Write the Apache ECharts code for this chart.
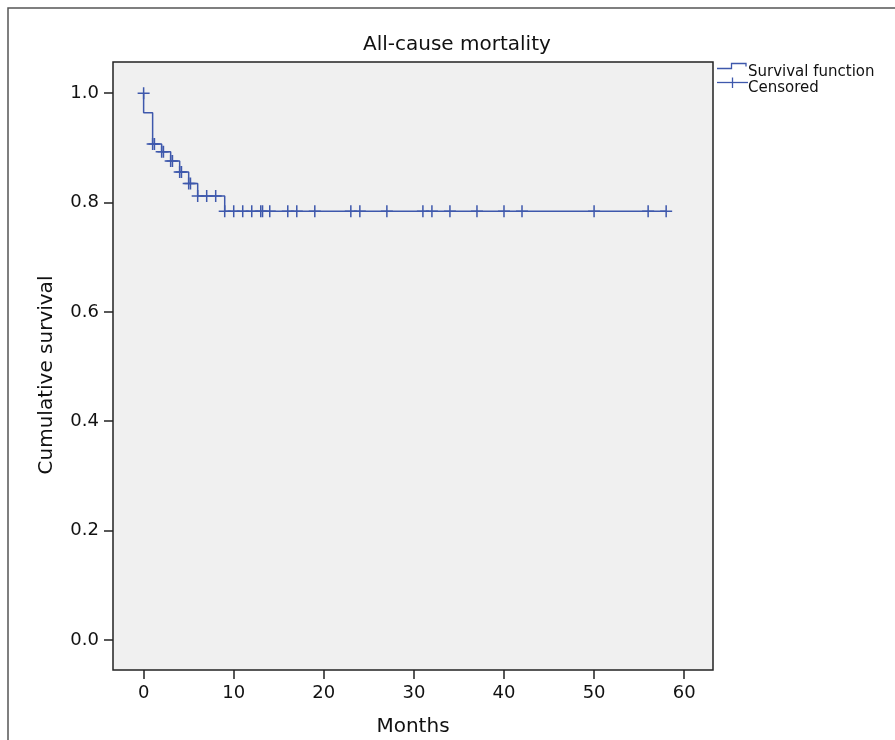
<!DOCTYPE html>
<html>
<head>
<meta charset="utf-8">
<script src="https://cdn.jsdelivr.net/npm/echarts@6/dist/echarts.min.js"></script>
<style>
html,body{margin:0;padding:0;background:#fff;}
#chart{width:895px;height:740px;}
</style>
</head>
<body>
<div id="chart"></div>
<script>
// Kaplan-Meier step curve: event times (months) and survival after each step
var stepTimes = [0, 0, 1, 2, 3, 4, 5, 6, 9, 58];
var stepSurv  = [1.0, 0.964, 0.907, 0.893, 0.876, 0.856, 0.835, 0.812, 0.784, 0.784];

// Censored observations (months) and survival level at that time
var censorTimes = [0, 1, 1.2, 2, 2.2, 3, 3.2, 4, 4.2, 5, 5.2, 6, 7, 8,
                   9, 10, 11, 12, 13, 13.2, 14, 16, 17, 19, 23, 24, 27, 31, 32, 34, 37, 40, 42, 50, 56, 58];
var censorSurv  = [1.0, 0.907, 0.907, 0.893, 0.893, 0.876, 0.876, 0.856, 0.856, 0.835, 0.835, 0.812, 0.812, 0.812,
                   0.784, 0.784, 0.784, 0.784, 0.784, 0.784, 0.784, 0.784, 0.784, 0.784, 0.784, 0.784, 0.784, 0.784, 0.784, 0.784, 0.784, 0.784, 0.784, 0.784, 0.784, 0.784];

var xTicks = [0, 10, 20, 30, 40, 50, 60];
var yTicks = [0, 0.2, 0.4, 0.6, 0.8, 1.0];

var titleText = 'All-cause mortality';
var xName = 'Months';
var yName = 'Cumulative survival';
var seriesNames = ['Survival function', 'Censored'];

var lineColor = '#3e58ac';
var FONT = 'DejaVu Sans';

var stepData = stepTimes.map(function (t, i) { return [t, stepSurv[i]]; });
var censorData = censorTimes.map(function (t, i) { return [t, censorSurv[i]]; });

var chart = echarts.init(document.getElementById('chart'), null, {renderer: 'canvas'});

var option = {
  backgroundColor: '#ffffff',
  animation: false,
  title: {
    text: titleText,
    left: 363,
    top: 35,
    padding: 0,
    textStyle: {fontFamily: FONT, fontSize: 20, fontWeight: 'normal', color: '#111'}
  },
  grid: {
    left: 113, top: 62, right: 182, bottom: 70,
    outerBoundsMode: 'none',
    containLabel: false,
    show: true,
    backgroundColor: '#f0f0f0',
    borderColor: '#222',
    borderWidth: 1.5
  },
  xAxis: {
    type: 'value',
    min: -3.4,
    max: 63.2,
    name: xName,
    nameLocation: 'middle',
    nameGap: 47,
    nameTextStyle: {fontFamily: FONT, fontSize: 20, color: '#111'},
    axisLine: {show: false, onZero: false},
    axisTick: {show: true, customValues: xTicks, length: 9, lineStyle: {color: '#222', width: 1.5}},
    axisLabel: {customValues: xTicks, margin: 14, fontFamily: FONT, fontSize: 18, color: '#111'},
    splitLine: {show: false}
  },
  yAxis: {
    type: 'value',
    min: -0.055,
    max: 1.057,
    name: yName,
    nameLocation: 'middle',
    nameGap: 56,
    nameTextStyle: {fontFamily: FONT, fontSize: 20, color: '#111', padding: [0, 18, 0, 0]},
    axisLine: {show: false, onZero: false},
    axisTick: {show: true, customValues: yTicks, length: 9, lineStyle: {color: '#222', width: 1.5}},
    axisLabel: {customValues: yTicks, margin: 14, fontFamily: FONT, fontSize: 18, color: '#111',
      formatter: function (v) { return v.toFixed(1); }},
    splitLine: {show: false}
  },
  series: [
    {
      name: seriesNames[0],
      type: 'line',
      step: 'end',
      data: stepData,
      showSymbol: false,
      symbol: 'none',
      lineStyle: {color: lineColor, width: 1.5},
      z: 3
    },
    {
      name: seriesNames[1],
      type: 'scatter',
      data: censorData,
      symbol: 'path://M0,6 L12,6 M6,0 L6,12',
      symbolSize: [12, 12],
      itemStyle: {color: 'transparent', borderColor: lineColor, borderWidth: 1.5, opacity: 1},
      z: 4
    }
  ],
  graphic: [
    {
      type: 'rect',
      shape: {x: 8, y: 8, width: 1000, height: 1000},
      style: {fill: 'none', stroke: '#555', lineWidth: 1.5},
      silent: true, z: 0
    },
    {
      type: 'polyline',
      shape: {points: [[717, 68.5], [731.5, 68.5], [731.5, 63.5], [746, 63.5], [746, 66.5]]},
      style: {stroke: lineColor, lineWidth: 1.3, fill: 'none'},
      silent: true
    },
    {
      type: 'text',
      x: 748, y: 72,
      style: {text: seriesNames[0], fontFamily: FONT, fontSize: 15, fill: '#111', verticalAlign: 'middle'},
      silent: true
    },
    {
      type: 'line',
      shape: {x1: 717, y1: 82.5, x2: 748, y2: 82.5},
      style: {stroke: lineColor, lineWidth: 1.3},
      silent: true
    },
    {
      type: 'line',
      shape: {x1: 732.5, y1: 77.5, x2: 732.5, y2: 88},
      style: {stroke: lineColor, lineWidth: 1.3},
      silent: true
    },
    {
      type: 'text',
      x: 748, y: 88,
      style: {text: seriesNames[1], fontFamily: FONT, fontSize: 15, fill: '#111', verticalAlign: 'middle'},
      silent: true
    }
  ]
};

chart.setOption(option);
</script>
</body>
</html>
